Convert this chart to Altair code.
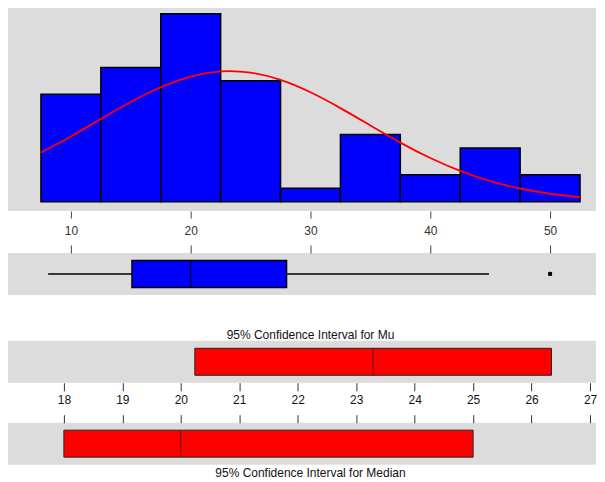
import altair as alt
import pandas as pd

# ---- data ----
bin_start = [7.5, 12.5, 17.5, 22.5, 27.5, 32.5, 37.5, 42.5, 47.5]
bin_end = [12.5, 17.5, 22.5, 27.5, 32.5, 37.5, 42.5, 47.5, 52.5]
counts = [8, 10, 14, 9, 1, 5, 2, 4, 2]

curve_x = [7.5, 10, 12.5, 15, 17.5, 20, 22.5, 25, 27.5, 30, 32.5, 35,
           37.5, 40, 42.5, 45, 47.5, 50, 52.5]
curve_y = [3.66, 4.86, 6.16, 7.42, 8.52, 9.32, 9.70, 9.61, 9.07, 8.15, 6.97,
           5.68, 4.40, 3.25, 2.29, 1.53, 0.98, 0.59, 0.34]

whisker_lo = 8.1
q1 = 15.1
median = 20.0
q3 = 28.0
whisker_hi = 44.9
outliers = [50.0, 50.0]

mu_ci = [20.24, 23.29, 26.34]      # lower, mean, upper
median_ci = [18.0, 20.0, 25.0]     # lower, median, upper

hist_ticks = [10, 20, 30, 40, 50]
ci_ticks = [18, 19, 20, 21, 22, 23, 24, 25, 26, 27]

# ---- styling ----
W = 589
FONT = "Liberation Sans"
NARROW = "Liberation Sans Narrow, Arial Narrow, Liberation Sans"
GRAY = "#DCDCDC"

xh = alt.Scale(domain=[4.75, 53.833], nice=False, zero=False)
xc = alt.Scale(domain=[17.044, 27.102], nice=False, zero=False)
yband = alt.Scale(paddingInner=0, paddingOuter=0)

# ---- histogram panel ----
hist_df = pd.DataFrame({"start": bin_start, "end": bin_end, "count": counts,
                        "base": [0] * len(counts)})
curve_df = pd.DataFrame({"x": curve_x, "y": curve_y})
yh = alt.Scale(domain=[-0.7, 14.62], nice=False, zero=False)

hist_axis = alt.Axis(values=hist_ticks, orient="bottom", tickSize=7, labelPadding=7,
                     domain=False, grid=False, title=None, labelFontSize=12,
                     labelFont=FONT, labelColor="#333", tickColor="#444",
                     tickWidth=1, labelAngle=0)

bars = alt.Chart(hist_df).mark_rect(fill="#0000FF", stroke="black", strokeWidth=1.5).encode(
    x=alt.X("start:Q", scale=xh, axis=hist_axis),
    x2="end:Q",
    y=alt.Y("count:Q", scale=yh, axis=None),
    y2="base:Q",
)
curve = alt.Chart(curve_df).mark_line(color="#FF0000", strokeWidth=1.8,
                                      interpolate="natural").encode(
    x=alt.X("x:Q", scale=xh, axis=hist_axis),
    y=alt.Y("y:Q", scale=yh, axis=None),
)
hist = alt.layer(bars, curve).properties(width=W, height=206)

# ---- boxplot panel ----
top_axis_h = alt.Axis(values=hist_ticks, orient="top", tickSize=8, labels=False,
                      domain=False, grid=False, title=None, tickColor="#444", tickWidth=1)

wh_df = pd.DataFrame({"a": [whisker_lo, q3], "b": [q1, whisker_hi], "row": ["r", "r"]})
box_df = pd.DataFrame({"q1": [q1], "q3": [q3], "med": [median], "row": ["r"]})
out_df = pd.DataFrame({"v": outliers, "row": ["r"] * len(outliers)})

whisk = alt.Chart(wh_df).mark_rule(color="black", strokeWidth=1.5).encode(
    x=alt.X("a:Q", scale=xh, axis=top_axis_h), x2="b:Q",
    y=alt.Y("row:N", scale=yband, axis=None))
boxr = alt.Chart(box_df).mark_bar(size=27, fill="#0000FF", stroke="black",
                                  strokeWidth=1.5).encode(
    x=alt.X("q1:Q", scale=xh, axis=top_axis_h), x2="q3:Q",
    y=alt.Y("row:N", scale=yband, axis=None))
medt = alt.Chart(box_df).mark_tick(size=27, thickness=1.5, color="black",
                                   orient="vertical").encode(
    x=alt.X("med:Q", scale=xh, axis=top_axis_h),
    y=alt.Y("row:N", scale=yband, axis=None))
outp = alt.Chart(out_df).mark_circle(size=18, color="black", opacity=1).encode(
    x=alt.X("v:Q", scale=xh, axis=top_axis_h),
    y=alt.Y("row:N", scale=yband, axis=None))
box = alt.layer(whisk, boxr, medt, outp).properties(width=W, height=42)

# ---- confidence interval panels ----
def ci_panel(vals, axis, title):
    df = pd.DataFrame({"lo": [vals[0]], "mid": [vals[1]], "hi": [vals[2]], "row": ["r"]})
    r = alt.Chart(df).mark_bar(size=27, fill="#FF0000", stroke="#222",
                               strokeWidth=1).encode(
        x=alt.X("lo:Q", scale=xc, axis=axis), x2="hi:Q",
        y=alt.Y("row:N", scale=yband, axis=None))
    m = alt.Chart(df).mark_tick(size=27, thickness=1, color="#222",
                                orient="vertical").encode(
        x=alt.X("mid:Q", scale=xc, axis=axis),
        y=alt.Y("row:N", scale=yband, axis=None))
    return alt.layer(r, m).properties(width=W, height=42, title=title)

mu_axis = alt.Axis(values=ci_ticks, orient="bottom", tickSize=8, labelPadding=4,
                   domain=False, grid=False, title=None, labelFontSize=12,
                   labelFont=NARROW, labelColor="#111", tickColor="#333",
                   tickWidth=1, labelAngle=0)
med_axis = alt.Axis(values=ci_ticks, orient="top", tickSize=8, labels=False,
                    domain=False, grid=False, title=None, tickColor="#333", tickWidth=1)

mu_title = alt.TitleParams("95% Confidence Interval for Mu", orient="top", offset=-1.5,
                           fontSize=12, font=FONT, fontWeight="normal", color="#111",
                           anchor="middle", dx=8.5)
med_title = alt.TitleParams("95% Confidence Interval for Median", orient="bottom",
                            offset=3.5, fontSize=12, font=FONT, fontWeight="normal",
                            color="#111", anchor="middle", dx=8.5)

mu = ci_panel(mu_ci, mu_axis, mu_title)
med = ci_panel(median_ci, med_axis, med_title)

top_part = alt.vconcat(hist, box, spacing=8)
bottom_part = alt.vconcat(mu, med, spacing=8)

chart = alt.vconcat(top_part, bottom_part, spacing=34).properties(
    padding={"top": -3, "left": 0, "right": 0, "bottom": 0},
    background="white",
).configure_view(fill=GRAY, stroke=None)

chart.save("out.html", embed_options={"renderer": "svg", "actions": False})
